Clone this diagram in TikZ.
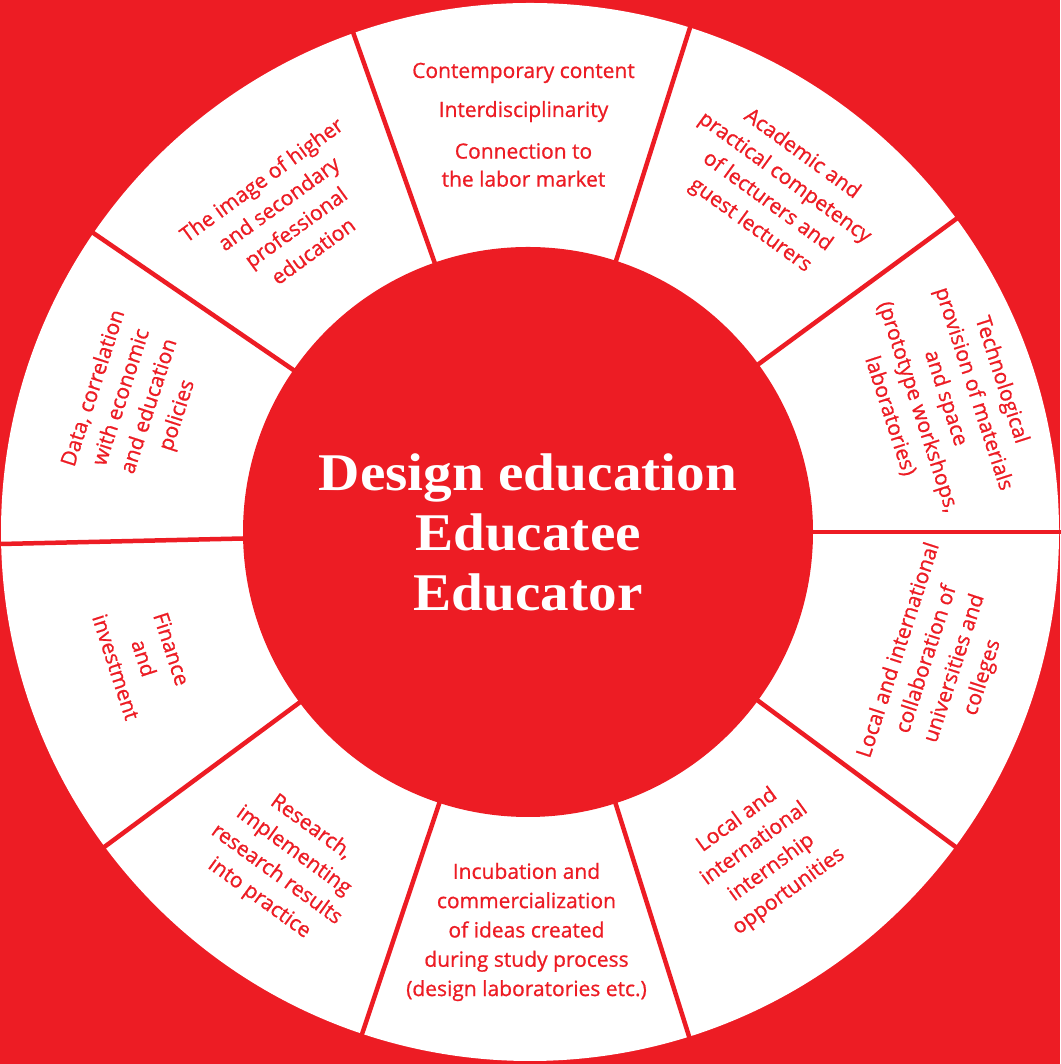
\documentclass[tikz,border=0pt]{standalone}
\usepackage{fontspec}
\setmainfont[FakeBold=0.8]{Open Sans}
\newfontfamily\ctrfont[FakeStretch=1.08]{Liberation Serif}
\definecolor{wred}{HTML}{ED1C24}
\begin{document}
\begin{tikzpicture}[x=1pt,y=1pt,
  seg/.style={text=wred, align=center, inner sep=0pt, font=\fontsize{21}{29.3}\selectfont},
  divider/.style={draw=wred, line width=4.5pt},
  hubstyle/.style={circle, fill=wred, minimum size=570pt, inner sep=0pt, text=white, align=center,
     font=\ctrfont\bfseries\fontsize{53}{60}\selectfont}]
\fill[wred] (0,0) rectangle (1060,1064);
\useasboundingbox (0,0) rectangle (1060,1064);
\coordinate (C) at (530,532);
\fill[white] (C) circle[radius=529];
\foreach \a in {0,36.3,72.4,109.5,145.6,181.3,216.5,251.5,287.5,323.5}
  \draw[divider] ([shift={(\a:280)}]C) -- ([shift={(\a:532)}]C);
\node[hubstyle] (hub) at ([xshift=-2pt]C) {Design education\\Educatee\\Educator};
% top segment
\node[seg, anchor=base] (t1) at (523.5,986) {Contemporary content};
\node[seg, anchor=base] (t2) at (523.5,947) {Interdisciplinarity};
\node[seg, font=\fontsize{21}{28}\selectfont] (t3) at (523.5,899) {Connection to\\the labor market};
% rotated segments
\node[seg, rotate=-36] (academic) at (776,874) {Academic and\\practical competency\\of lecturers and\\guest lecturers};
\node[seg, rotate=-72] (tech) at (946,666) {Technological\\provision of materials\\and space\\(prototype workshops,\\laboratories)};
\node[seg, rotate=72] (collab) at (941,400) {Local and international\\collaboration of\\universities and\\colleges};
\node[seg, rotate=36] (intern) at (763,208) {Local and\\international\\internship\\opportunities};
\node[seg] (incub) at (526.5,132) {Incubation and\\commercialization\\of ideas created\\during study process\\(design laboratories etc.)};
\node[seg, rotate=-36] (research) at (285,201) {Research,\\implementing\\research results\\into practice};
\node[seg, rotate=-72] (finance) at (144,406) {Finance\\and\\investment};
\node[seg, rotate=72] (data) at (136,662) {Data, correlation\\with economic\\and education\\policies};
\node[seg, rotate=36] (image) at (287,849) {The image of higher\\and secondary\\professional\\education};
\end{tikzpicture}
\end{document}
